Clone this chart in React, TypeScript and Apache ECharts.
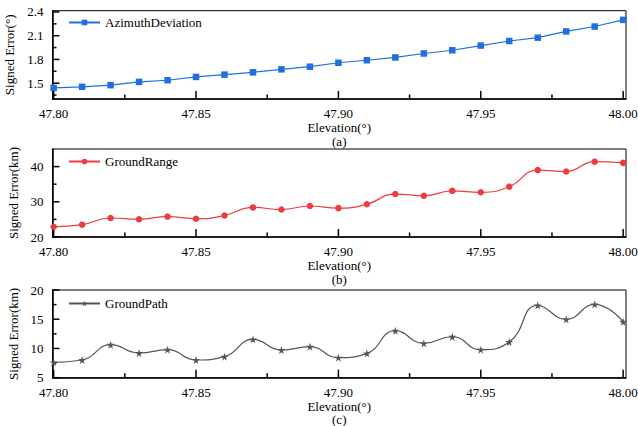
import React, { useEffect, useRef } from "react";
import * as echarts from "echarts";

const elevations = [47.80, 47.81, 47.82, 47.83, 47.84, 47.85, 47.86, 47.87, 47.88, 47.89, 47.90, 47.91, 47.92, 47.93, 47.94, 47.95, 47.96, 47.97, 47.98, 47.99, 48.00];
const azimuthDeviation = [1.44, 1.454, 1.475, 1.516, 1.537, 1.579, 1.608, 1.637, 1.675, 1.708, 1.758, 1.79, 1.825, 1.875, 1.916, 1.975, 2.033, 2.075, 2.154, 2.216, 2.30];
const groundRange = [22.9, 23.5, 25.4, 25.05, 25.8, 25.2, 26.1, 28.4, 27.8, 28.8, 28.2, 29.3, 32.2, 31.7, 33.1, 32.7, 34.3, 39.0, 38.6, 41.4, 41.05];
const groundPath = [7.63, 8.03, 10.64, 9.22, 9.79, 8.03, 8.6, 11.56, 9.73, 10.3, 8.42, 9.17, 13.03, 10.88, 12.0, 9.79, 11.1, 17.38, 14.98, 17.55, 14.57];

const xMajorTicks = [47.80, 47.85, 47.90, 47.95, 48.00];
const xMinorTicks = [47.825, 47.875, 47.925, 47.975];
const yMajorTicks1 = [1.5, 1.8, 2.1, 2.4];
const yMinorTicks1 = [1.35, 1.65, 1.95, 2.25];
const yMajorTicks2 = [20, 30, 40];
const yMinorTicks2 = [25, 35];
const yMajorTicks3 = [5, 10, 15, 20];
const yMinorTicks3 = [7.5, 12.5, 17.5];

const STAR = "path://M50,0 L61,35 L98,35 L68,57 L79,91 L50,70 L21,91 L32,57 L2,35 L39,35 Z";
const FONT = "Liberation Serif";

export default function App() {
  const ref = useRef<HTMLDivElement>(null);
  useEffect(() => {
    if (!ref.current) return;
    const chart = echarts.init(ref.current, null, { renderer: "svg" });
    const xMin = 47.7996;
    const xMax = 48.001;
    const panels = [
      { top: 10.7, height: 88.3, yMin: 1.3, yMax: 2.416, maj: yMajorTicks1, min: yMinorTicks1, yName: "Signed Error(°)", tag: "(a)", dec: 1, legendTop: 16 },
      { top: 149, height: 88, yMin: 20, yMax: 45, maj: yMajorTicks2, min: yMinorTicks2, yName: "Signed Error(km)", tag: "(b)", dec: 0, legendTop: 155 },
      { top: 290, height: 87.7, yMin: 5, yMax: 20, maj: yMajorTicks3, min: yMinorTicks3, yName: "Signed Error(km)", tag: "(c)", dec: 0, legendTop: 297 },
    ];
    const labelStyle = { color: "#000", fontSize: 13, fontFamily: FONT, fontWeight: "normal" as const };
    const grids: any[] = [];
    const xAxes: any[] = [];
    const yAxes: any[] = [];
    panels.forEach((p) => {
      grids.push({ left: 52.5, right: 12, top: p.top, height: p.height, show: true, borderColor: "#000", borderWidth: 1, backgroundColor: "transparent", outerBoundsMode: "none", containLabel: false });
    });
    panels.forEach((p, i) => {
      xAxes.push({
        type: "value", gridIndex: i, min: xMin, max: xMax, position: "bottom",
        axisLine: { show: true, onZero: false, lineStyle: { color: "#000", width: 1.5 } },
        axisTick: { show: false },
        axisLabel: { show: true, customValues: xMajorTicks, formatter: (v: number) => v.toFixed(2), margin: 8, ...labelStyle },
        splitLine: { show: false },
        name: "Elevation(°)\n" + p.tag, nameLocation: "middle", nameGap: 21,
        nameTextStyle: { ...labelStyle, lineHeight: 13.5 },
      });
      yAxes.push({
        type: "value", gridIndex: i, min: p.yMin, max: p.yMax, position: "left",
        axisLine: { show: true, onZero: false, lineStyle: { color: "#000", width: 1.5 } },
        axisTick: { show: false },
        axisLabel: { show: true, customValues: p.maj, formatter: (v: number) => v.toFixed(p.dec), margin: 9, ...labelStyle },
        splitLine: { show: false },
        name: p.yName, nameLocation: "middle", nameGap: 29,
        nameTextStyle: { ...labelStyle },
      });
    });
    const mk = (vals: number[]) => elevations.map((e, k) => [e, vals[k]]);
    const series: any[] = [
      { name: "AzimuthDeviation", type: "line", xAxisIndex: 0, yAxisIndex: 0, data: mk(azimuthDeviation), symbol: "rect", symbolSize: 6.5, smooth: false, clip: false, z: 4, itemStyle: { color: "#1f6fe0" }, lineStyle: { color: "#1f6fe0", width: 1.2 } },
      { name: "GroundRange", type: "line", xAxisIndex: 1, yAxisIndex: 1, data: mk(groundRange), symbol: "circle", symbolSize: 6.5, smooth: 0.5, clip: false, z: 4, itemStyle: { color: "#ee3a40" }, lineStyle: { color: "#ee3a40", width: 1.2 } },
      { name: "GroundPath", type: "line", xAxisIndex: 2, yAxisIndex: 2, data: mk(groundPath), symbol: STAR, symbolSize: 8, smooth: 0.5, clip: false, z: 4, itemStyle: { color: "#555555" }, lineStyle: { color: "#555555", width: 1.2 } },
    ];
    // inward axis ticks, placed through the axes' own scales
    const tickSeries = (i: number, vals: number[], dir: "x" | "y", len: number, p: any) => ({
      type: "custom", xAxisIndex: i, yAxisIndex: i, silent: true, clip: false, z: 3,
      data: vals.map((v) => (dir === "x" ? [v, p.yMin] : [xMin, v])),
      renderItem: (_params: any, api: any) => {
        const pt = api.coord([api.value(0), api.value(1)]);
        const shape = dir === "x"
          ? { x1: pt[0], y1: pt[1], x2: pt[0], y2: pt[1] - len }
          : { x1: pt[0], y1: pt[1], x2: pt[0] + len, y2: pt[1] };
        return { type: "line", shape, style: { stroke: "#000", lineWidth: 1.5 } };
      },
    });
    panels.forEach((p, i) => {
      series.push(tickSeries(i, xMajorTicks, "x", 8, p));
      series.push(tickSeries(i, xMinorTicks, "x", 4.5, p));
      series.push(tickSeries(i, p.maj, "y", 7, p));
      series.push(tickSeries(i, p.min, "y", 4, p));
    });
    const legends = panels.map((p, i) => ({
      data: [series[i].name], left: 68, top: p.legendTop, padding: 0, itemWidth: 31, itemHeight: 7, itemGap: 5,
      textStyle: { ...labelStyle },
    }));
    chart.setOption({
      animation: false,
      textStyle: { fontFamily: FONT },
      grid: grids,
      xAxis: xAxes,
      yAxis: yAxes,
      legend: legends,
      series,
    });
    return () => chart.dispose();
  }, []);
  return <div ref={ref} style={{ position: "fixed", left: 0, top: 0, width: 638, height: 426, background: "#fff" }} />;
}
